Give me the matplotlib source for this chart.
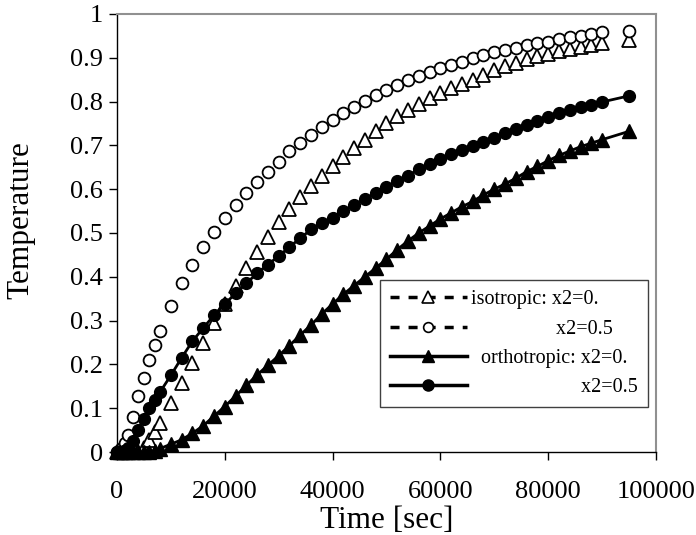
import matplotlib.pyplot as plt
from matplotlib.lines import Line2D
from matplotlib.ticker import FuncFormatter

plt.rcParams['font.family'] = ['Liberation Serif', 'DejaVu Serif']

# time axis [sec]
tiempo = [0, 500, 1000, 1500, 2000, 3000, 4000, 5000, 6000, 7000, 8000,
          10000, 12000, 14000, 16000, 18000, 20000, 22000, 24000, 26000, 28000,
          30000, 32000, 34000, 36000, 38000, 40000, 42000, 44000, 46000, 48000,
          50000, 52000, 54000, 56000, 58000, 60000, 62000, 64000, 66000, 68000,
          70000, 72000, 74000, 76000, 78000, 80000, 82000, 84000, 86000, 88000,
          90000, 95000]

iso_x0 = [0, 0, 0, 0, 0, 0, 0, 0.01, 0.028, 0.046, 0.067,
          0.112, 0.158, 0.204, 0.25, 0.295, 0.338, 0.38, 0.42, 0.457, 0.49,
          0.525, 0.555, 0.582, 0.607, 0.63, 0.652, 0.673, 0.693, 0.713, 0.732,
          0.75, 0.766, 0.781, 0.795, 0.807, 0.819, 0.83, 0.84, 0.85, 0.861,
          0.871, 0.88, 0.888, 0.896, 0.903, 0.909, 0.915, 0.921, 0.925, 0.929,
          0.933, 0.941]

iso_x05 = [0, 0, 0.01, 0.02, 0.04, 0.08, 0.128, 0.168, 0.21, 0.244, 0.277,
           0.334, 0.386, 0.428, 0.468, 0.503, 0.535, 0.565, 0.592, 0.617, 0.64,
           0.663, 0.687, 0.706, 0.724, 0.742, 0.758, 0.773, 0.788, 0.801, 0.814,
           0.827, 0.838, 0.849, 0.859, 0.868, 0.876, 0.884, 0.891, 0.9, 0.907,
           0.912, 0.918, 0.923, 0.929, 0.933, 0.937, 0.942, 0.947, 0.95, 0.954,
           0.958, 0.962]

orto_x0 = [0, 0, 0, 0, 0, 0, 0, 0, 0, 0.003, 0.008,
           0.018, 0.028, 0.043, 0.06, 0.082, 0.104, 0.128, 0.152, 0.176, 0.198,
           0.22, 0.243, 0.267, 0.29, 0.315, 0.338, 0.36, 0.38, 0.4, 0.42,
           0.44, 0.462, 0.482, 0.5, 0.516, 0.532, 0.546, 0.56, 0.572, 0.587,
           0.6, 0.612, 0.625, 0.64, 0.652, 0.665, 0.677, 0.687, 0.697, 0.705,
           0.713, 0.732]

orto_x05 = [0, 0, 0, 0.003, 0.01, 0.025, 0.05, 0.075, 0.1, 0.118, 0.137,
            0.175, 0.215, 0.253, 0.283, 0.312, 0.338, 0.362, 0.385, 0.408, 0.428,
            0.447, 0.468, 0.488, 0.508, 0.522, 0.535, 0.55, 0.564, 0.577, 0.592,
            0.605, 0.619, 0.631, 0.645, 0.657, 0.669, 0.68, 0.69, 0.699, 0.708,
            0.717, 0.728, 0.738, 0.746, 0.756, 0.765, 0.773, 0.78, 0.787, 0.793,
            0.799, 0.813]

etiquetas = ['isotropic: x2=0.', ' ' * 17 + 'x2=0.5',
             '  orthotropic: x2=0.', ' ' * 22 + 'x2=0.5']

fig = plt.figure(figsize=(6.96, 5.35), dpi=100)
ax = fig.add_axes([0.168, 0.155, 0.7745, 0.819])

guion = (0, (2.6, 2.6))
# the isotropic series show only markers in the plot area
ax.plot(tiempo, iso_x0, ls='none', marker='^', ms=9.5,
        mfc='white', mec='black', mew=1.3, clip_on=False)
ax.plot(tiempo, iso_x05, ls='none', marker='o', ms=8.5,
        mfc='white', mec='black', mew=1.3, clip_on=False)
ax.plot(tiempo, orto_x0, color='black', ls='-', lw=2, marker='^', ms=9.5,
        mfc='black', mec='black', clip_on=False)
ax.plot(tiempo, orto_x05, color='black', ls='-', lw=2, marker='o', ms=8.5,
        mfc='black', mec='black', clip_on=False)

manejadores = [
    Line2D([], [], color='black', ls=guion, lw=2.5, marker='^', ms=8,
           mfc='white', mec='black', mew=1.2),
    Line2D([], [], color='black', ls=guion, lw=2.5, marker='o', ms=7,
           mfc='white', mec='black', mew=1.2),
    Line2D([], [], color='black', ls='-', lw=2.5, marker='^', ms=9,
           mfc='black', mec='black'),
    Line2D([], [], color='black', ls='-', lw=2.5, marker='o', ms=8,
           mfc='black', mec='black'),
]

ax.set_xlim(0, 100000)
ax.set_ylim(0, 1)
ax.set_xticks(range(0, 100001, 20000))
ax.set_yticks([i / 10 for i in range(11)])
ax.yaxis.set_major_formatter(FuncFormatter(lambda v, p: '{:g}'.format(round(v, 1))))
ax.xaxis.set_major_formatter(FuncFormatter(lambda v, p: '{:d}'.format(int(v))))
ax.tick_params(direction='out', length=6, width=1, labelsize=19, color='black')
ax.tick_params(axis='x', pad=15)
ax.tick_params(axis='y', pad=4)

for lado in ['left', 'bottom']:
    ax.spines[lado].set_color('black')
    ax.spines[lado].set_linewidth(1)
for lado in ['top', 'right']:
    ax.spines[lado].set_color('#909090')
    ax.spines[lado].set_linewidth(1.5)

ax.set_xlabel('Time [sec]', fontsize=22.5, labelpad=2)
ax.set_ylabel('Temperature', fontsize=22.5)
ax.yaxis.set_label_coords(-0.152, 0.53)

leg = ax.legend(manejadores, etiquetas, loc='lower right',
                bbox_to_anchor=(1.003, 0.08), fontsize=14.5,
                numpoints=1, handlelength=3.8, handletextpad=0.2,
                labelspacing=0.5, borderpad=0.5, fancybox=False,
                edgecolor='#404040', framealpha=1)
leg.get_frame().set_linewidth(1)

fig.savefig('out.png', dpi=100)
